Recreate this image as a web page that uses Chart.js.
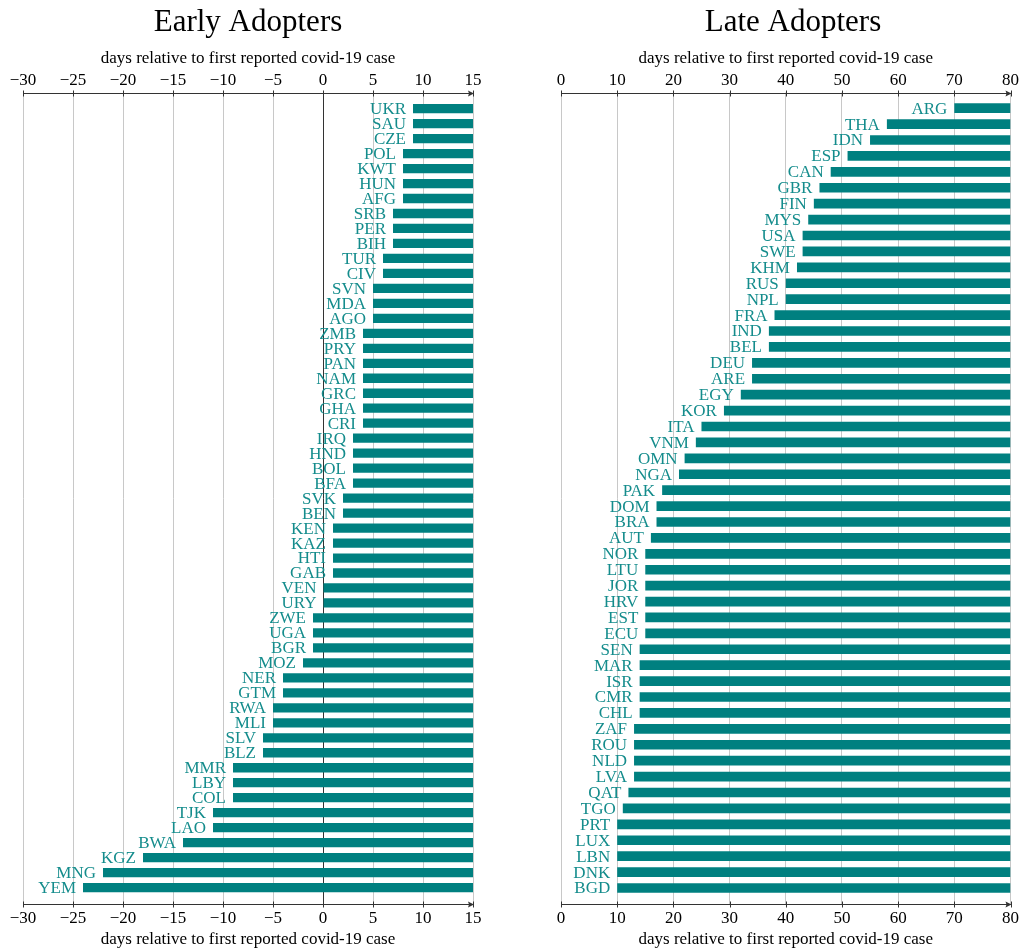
<!DOCTYPE html>
<html>
<head>
<meta charset="utf-8">
<script src="https://cdn.jsdelivr.net/npm/chart.js@4.4.1/dist/chart.umd.min.js"></script>
<style>
  html, body { margin: 0; padding: 0; background: #fff; overflow: hidden; }
  .panel { position: absolute; top: 0; height: 948px; }
  #leftBox { left: 0; width: 500px; }
  #rightBox { left: 530px; width: 495px; }
</style>
</head>
<body>
<div class="panel" id="leftBox"><canvas id="earlyChart"></canvas></div>
<div class="panel" id="rightBox"><canvas id="lateChart"></canvas></div>
<script>
// early adopters: days between first covid-19 case and the measure
const earlyCodes = ['UKR','SAU','CZE','POL','KWT','HUN','AFG','SRB','PER','BIH','TUR','CIV','SVN','MDA','AGO',
  'ZMB','PRY','PAN','NAM','GRC','GHA','CRI','IRQ','HND','BOL','BFA','SVK','BEN','KEN','KAZ','HTI','GAB',
  'VEN','URY','ZWE','UGA','BGR','MOZ','NER','GTM','RWA','MLI','SLV','BLZ','MMR','LBY','COL','TJK','LAO',
  'BWA','KGZ','MNG','YEM'];
const earlyDays = [9, 9, 9, 8, 8, 8, 8, 7, 7, 7, 6, 6, 5, 5, 5,
  4, 4, 4, 4, 4, 4, 4, 3, 3, 3, 3, 2, 2, 1, 1, 1, 1,
  0, 0, -1, -1, -1, -2, -4, -4, -5, -5, -6, -6, -9, -9, -9, -11, -11,
  -14, -18, -22, -24];

// late adopters
const lateCodes = ['ARG','THA','IDN','ESP','CAN','GBR','FIN','MYS','USA','SWE','KHM','RUS','NPL','FRA','IND',
  'BEL','DEU','ARE','EGY','KOR','ITA','VNM','OMN','NGA','PAK','DOM','BRA','AUT','NOR','LTU','JOR','HRV',
  'EST','ECU','SEN','MAR','ISR','CMR','CHL','ZAF','ROU','NLD','LVA','QAT','TGO','PRT','LUX','LBN','DNK','BGD'];
const lateDays = [70, 58, 55, 51, 48, 46, 45, 44, 43, 43, 42, 40, 40, 38, 37,
  37, 34, 34, 32, 29, 25, 24, 22, 21, 18, 17, 17, 16, 15, 15, 15, 15,
  15, 15, 14, 14, 14, 14, 14, 13, 13, 13, 13, 12, 11, 10, 10, 10, 10, 10];

const earlyRange = [-30, 15];
const lateRange = [0, 80];

const TEAL = 'rgb(0,128,128)';
const LABEL_TEAL = 'rgb(20,140,140)';
const SERIF = "'Liberation Serif', 'DejaVu Serif', serif";
const axisTitle = 'days relative to first reported covid-19 case';

// minus sign like in TeX output
const fmtTick = v => v < 0 ? '\u2212' + (-v) : String(v);

// axis lines with an arrow at the right end and small tick marks
const axisArrows = {
  id: 'axisArrows',
  afterDraw(chart) {
    const {ctx, chartArea: a} = chart;
    const sx = chart.scales.x;
    ctx.save();
    ctx.strokeStyle = '#333';
    ctx.fillStyle = '#333';
    ctx.lineWidth = 1;
    [a.top, a.bottom].forEach(y0 => {
      const y = Math.round(y0) + 0.5;
      ctx.beginPath();
      ctx.moveTo(a.left, y);
      ctx.lineTo(a.right, y);
      ctx.stroke();
      ctx.beginPath();
      ctx.moveTo(a.right + 1, y);
      ctx.lineTo(a.right - 5, y - 3);
      ctx.lineTo(a.right - 4, y);
      ctx.lineTo(a.right - 5, y + 3);
      ctx.closePath();
      ctx.fill();
      sx.ticks.forEach(t => {
        const x = Math.round(sx.getPixelForValue(t.value)) + 0.5;
        ctx.beginPath();
        ctx.moveTo(x, y - 3);
        ctx.lineTo(x, y + 3);
        ctx.stroke();
      });
    });
    ctx.restore();
  }
};

// country code written just left of where each bar starts
const barLabels = {
  id: 'barLabels',
  afterDatasetsDraw(chart) {
    const {ctx} = chart;
    const meta = chart.getDatasetMeta(0);
    const codes = chart.data.datasets[0].codes;
    ctx.save();
    ctx.font = '17px ' + SERIF;
    ctx.fillStyle = LABEL_TEAL;
    ctx.textAlign = 'right';
    ctx.textBaseline = 'middle';
    meta.data.forEach((bar, i) => {
      const left = Math.min(bar.x, bar.base);
      ctx.fillText(codes[i], left - 7, bar.y + 1);
    });
    ctx.restore();
  }
};

function makeChart(id, title, codes, days, range, step, zeroLine, pad, rowPad) {
  const data = codes.map((c, i) => ({ y: i, x: [days[i], range[1]] }));
  const tickFont = { family: SERIF, size: 17, lineHeight: 1 };
  const titleFont = { family: SERIF, size: 17 };
  const gridColor = c => (zeroLine && c.tick && c.tick.value === 0) ? '#333' : '#c8c8c8';
  return new Chart(document.getElementById(id), {
    type: 'bar',
    data: {
      datasets: [{
        data: data,
        codes: codes,
        backgroundColor: TEAL,
        borderWidth: 0,
        barPercentage: 0.62,
        categoryPercentage: 1
      }]
    },
    options: {
      indexAxis: 'y',
      responsive: true,
      maintainAspectRatio: false,
      animation: false,
      layout: { padding: pad },
      plugins: {
        legend: { display: false },
        tooltip: { enabled: false },
        title: {
          display: true,
          text: title,
          font: { family: SERIF, size: 31, weight: 'normal' },
          color: '#000',
          padding: { top: 2, bottom: 7 }
        }
      },
      scales: {
        x: {
          type: 'linear',
          position: 'bottom',
          min: range[0],
          max: range[1],
          grid: { color: gridColor, lineWidth: 1, drawTicks: false },
          border: { display: false },
          ticks: { stepSize: step, font: tickFont, color: '#000', padding: 6, maxRotation: 0, callback: fmtTick },
          title: { display: true, text: axisTitle, font: titleFont, color: '#000', padding: { top: -3, bottom: 0 } }
        },
        x2: {
          type: 'linear',
          position: 'top',
          min: range[0],
          max: range[1],
          grid: { display: false, drawTicks: false },
          border: { display: false },
          ticks: { stepSize: step, font: tickFont, color: '#000', padding: 4, maxRotation: 0, callback: fmtTick },
          title: { display: true, text: axisTitle, font: titleFont, color: '#000', padding: { top: 0, bottom: -1 } }
        },
        y: {
          type: 'linear',
          display: false,
          reverse: true,
          offset: false,
          min: -rowPad,
          max: codes.length - 1 + rowPad
        }
      }
    },
    plugins: [barLabels, axisArrows]
  });
}

makeChart('earlyChart', 'Early Adopters', earlyCodes, earlyDays, earlyRange, 5, true,
  { left: 23, right: 27, top: 2, bottom: -2 }, 1.07);
makeChart('lateChart', 'Late Adopters', lateCodes, lateDays, lateRange, 10, false,
  { left: 31, right: 0, top: 2, bottom: -2 }, 0.98);
</script>
</body>
</html>
